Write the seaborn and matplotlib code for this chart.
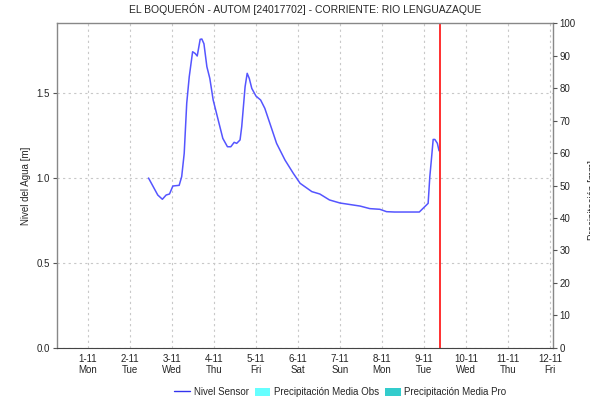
import numpy as np
import pandas as pd
import seaborn as sns
from matplotlib import pyplot as plt
from matplotlib.lines import Line2D
from matplotlib.patches import Patch

# time in days (1 = 1-11 00:00) and water level [m]
dias = [2.44, 2.55, 2.66, 2.77, 2.86, 2.94, 3.02, 3.17, 3.23, 3.29, 3.35, 3.41,
        3.49, 3.55, 3.60, 3.67, 3.71, 3.76, 3.83, 3.90, 3.98, 4.10, 4.21, 4.32,
        4.40, 4.48, 4.54, 4.62, 4.66, 4.74, 4.79, 4.84, 4.90, 5.00, 5.11, 5.21,
        5.33, 5.49, 5.69, 5.89, 6.05, 6.33, 6.52, 6.75, 7.00, 7.48, 7.71, 7.95,
        8.11, 8.30, 8.50, 8.75, 8.89, 9.10, 9.14, 9.18, 9.22, 9.26, 9.32, 9.36]
nivel = [1.00, 0.95, 0.90, 0.875, 0.90, 0.906, 0.953, 0.957, 1.008, 1.145, 1.44, 1.596,
         1.743, 1.733, 1.718, 1.816, 1.818, 1.79, 1.655, 1.586, 1.459, 1.341, 1.233, 1.184,
         1.184, 1.21, 1.204, 1.224, 1.302, 1.537, 1.616, 1.586, 1.527, 1.482, 1.459, 1.41,
         1.322, 1.204, 1.106, 1.027, 0.969, 0.92, 0.906, 0.871, 0.853, 0.835, 0.82, 0.816,
         0.802, 0.80, 0.80, 0.80, 0.80, 0.851, 1.008, 1.115, 1.227, 1.227, 1.204, 1.16]
tick_dias = list(range(1, 13))
tick_labels = ['1-11\nMon', '2-11\nTue', '3-11\nWed', '4-11\nThu', '5-11\nFri', '6-11\nSat',
               '7-11\nSun', '8-11\nMon', '9-11\nTue', '10-11\nWed', '11-11\nThu', '12-11\nFri']
ahora = 9.38

df = pd.DataFrame({'dia': dias, 'nivel': nivel})

sns.set_style('white')
plt.rcParams['font.family'] = ['Liberation Sans', 'DejaVu Sans']

fig = plt.figure(figsize=(5.9, 4.01), dpi=100)
ax = fig.add_axes([0.0966, 0.1322, 0.8404, 0.8104])
sns.lineplot(data=df, x='dia', y='nivel', ax=ax, color='#5555ff', linewidth=1.1)
ax.axvline(ahora, color='#ff2020', linewidth=1.3)

ax.set_xlim(0.26, 12.07)
ax.set_ylim(0, 1.912)
ax.set_xticks(tick_dias)
ax.set_xticklabels(tick_labels, fontsize=7)
ax.set_yticks([0, 0.5, 1.0, 1.5])
ax.set_yticklabels(['0.0', '0.5', '1.0', '1.5'], fontsize=7)
ax.set_xlabel('')
ax.set_ylabel('Nivel del Agua [m]', fontsize=7, labelpad=20)
ax.yaxis.set_label_coords(-0.052, 0.5)
ax.grid(True, color='#c8c8c8', linestyle=(0, (2, 3)), linewidth=0.8)
ax.tick_params(axis='y', length=3, width=0.8, color='#555555', pad=2)
ax.tick_params(axis='x', length=0, pad=4)
for s in ['top', 'left', 'right']:
    ax.spines[s].set_color('#888888')
    ax.spines[s].set_linewidth(1)
ax.spines['bottom'].set_color('#444444')
ax.spines['bottom'].set_linestyle((0, (1, 1)))
ax.set_title('EL BOQUERÓN - AUTOM [24017702] - CORRIENTE: RIO LENGUAZAQUE', fontsize=7.5, pad=7)

ax2 = ax.twinx()
ax2.set_ylim(0, 100)
ax2.set_yticks(range(0, 101, 10))
ax2.tick_params(axis='y', length=3, width=0.8, color='#555555', labelsize=7, pad=2)
for s in ax2.spines.values():
    s.set_visible(False)
ax2.grid(False)
fig.text(0.997, 0.5, 'Precipitación [mm]', rotation=90, fontsize=7, ha='left', va='center')

handles = [Line2D([], [], color='#3333ee', linewidth=1),
           Patch(facecolor='#66ffff', edgecolor='none'),
           Patch(facecolor='#33cccc', edgecolor='none')]
fig.legend(handles, ['Nivel Sensor', 'Precipitación Media Obs', 'Precipitación Media Pro'],
           loc='center', bbox_to_anchor=(0.577, 0.022), ncol=3, frameon=False, fontsize=7,
           handlelength=1.6, handleheight=0.9, handletextpad=0.4, columnspacing=0.6)

fig.savefig('out.png', dpi=100)
